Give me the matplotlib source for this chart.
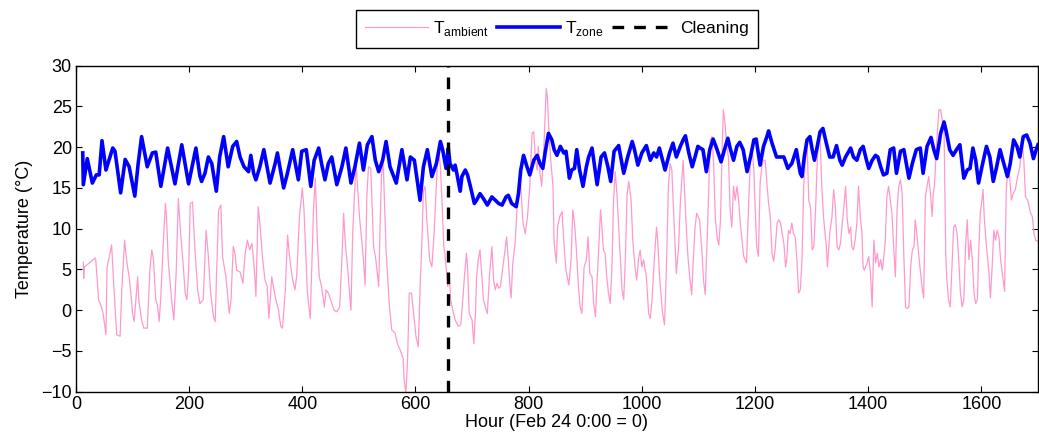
import numpy as np
import matplotlib
matplotlib.use("Agg")
import matplotlib.pyplot as plt

plt.rcParams["font.family"] = ["Liberation Sans", "DejaVu Sans"]
plt.rcParams["mathtext.fontset"] = "custom"
plt.rcParams["mathtext.rm"] = "Liberation Sans"

# Zone temperature (hour, deg C), daily swings of the conditioned space
zone_hour = [
    12, 13, 20, 29, 36, 41, 46, 53, 65, 69, 79, 87, 94, 104, 110, 116, 126, 135, 141, 150,
    162, 175, 187, 199, 212, 219, 222, 228, 234, 240, 248, 254, 261, 269, 277, 284, 290, 297,
    305, 309, 314, 318, 325, 332, 343, 352, 356, 367, 373, 383, 393, 399, 407, 415, 421, 429,
    434, 440, 446, 452, 461, 470, 477, 486, 493, 501, 508, 515, 523, 529, 535, 542, 548, 555,
    566, 576, 585, 591, 598, 608, 614, 621, 629, 637, 644, 648, 654, 658, 661, 664, 667, 670,
    673, 679, 682, 688, 692, 697, 704, 708, 714, 720, 727, 735, 741, 747, 753, 760, 764, 770,
    778, 782, 786, 791, 797, 802, 809, 815, 820, 825, 829, 835, 841, 845, 850, 856, 862, 866,
    872, 876, 881, 885, 890, 896, 902, 906, 912, 915, 921, 928, 934, 940, 945, 951, 959, 968,
    975, 983, 987, 993, 1000, 1008, 1015, 1021, 1026, 1031, 1041, 1049, 1055, 1061, 1068, 1073,
    1077, 1083, 1089, 1094, 1099, 1103, 1108, 1114, 1120, 1126, 1133, 1140, 1146, 1152, 1156,
    1162, 1168, 1173, 1179, 1186, 1192, 1198, 1202, 1209, 1215, 1221, 1224, 1230, 1238, 1245,
    1251, 1258, 1265, 1273, 1280, 1283, 1287, 1292, 1297, 1301, 1305, 1310, 1315, 1320, 1326,
    1332, 1338, 1344, 1350, 1354, 1360, 1364, 1369, 1374, 1380, 1386, 1391, 1397, 1401, 1407,
    1413, 1417, 1422, 1427, 1433, 1439, 1445, 1450, 1457, 1463, 1472, 1478, 1485, 1492, 1497,
    1504, 1511, 1516, 1521, 1528, 1534, 1538, 1544, 1550, 1556, 1562, 1569, 1575, 1580, 1585,
    1590, 1595, 1601, 1609, 1615, 1621, 1627, 1633, 1638, 1646, 1651, 1657, 1663, 1668, 1674,
    1680, 1686, 1692, 1697, 1700,
]
zone_temp = [
    19.3, 15.4, 18.6, 15.6, 16.6, 16.6, 20.8, 17.2, 19.9, 19.5, 14.4, 18.5, 17.6, 14.0, 18.0, 21.3, 17.6, 19.3, 19.4, 15.2,
    19.9, 15.5, 20.3, 15.5, 19.9, 16.5, 15.8, 16.8, 18.8, 18.0, 14.6, 18.8, 21.3, 17.6, 20.1, 20.7, 18.8, 17.6,
    17.0, 19.0, 16.8, 16.0, 17.6, 19.7, 15.6, 18.0, 19.3, 15.0, 16.6, 19.7, 16.0, 19.5, 19.7, 15.2, 18.4, 19.9,
    18.0, 16.0, 18.0, 18.8, 15.4, 17.6, 19.9, 15.6, 17.6, 20.5, 17.2, 20.3, 21.3, 18.4, 17.0, 18.4, 20.7, 17.6,
    15.6, 19.7, 16.0, 18.8, 18.4, 13.5, 17.6, 19.7, 16.4, 18.0, 20.7, 19.7, 17.4, 19.9, 18.0, 17.6, 17.2, 17.8,
    16.8, 14.6, 16.4, 17.2, 16.6, 15.2, 13.1, 13.5, 14.3, 13.7, 12.9, 13.9, 13.5, 13.1, 12.9, 13.9, 14.1, 13.1,
    12.7, 14.3, 17.2, 19.0, 17.6, 16.6, 18.4, 19.0, 18.0, 17.4, 19.3, 21.7, 20.9, 19.7, 19.0, 20.1, 19.3, 19.5,
    16.2, 17.2, 17.4, 19.7, 17.2, 15.2, 17.6, 18.8, 19.9, 18.4, 15.4, 18.8, 19.3, 17.6, 15.8, 19.5, 20.2, 16.8,
    18.8, 20.7, 19.7, 17.8, 19.3, 20.2, 18.4, 19.3, 18.8, 19.9, 17.2, 19.3, 20.5, 18.8, 20.1, 20.9,
    21.4, 19.3, 17.6, 18.8, 20.1, 19.9, 19.7, 17.0, 19.7, 21.0, 19.7, 18.2, 19.7, 21.1, 19.9,
    18.4, 20.1, 20.6, 19.7, 17.0, 18.8, 20.9, 21.0, 17.8, 20.1, 21.3, 22.0, 20.5, 18.8, 18.8,
    18.8, 17.4, 18.0, 19.7, 16.8, 16.4, 18.8, 20.9, 21.3, 19.7, 18.4, 20.1, 21.9, 22.3, 20.5,
    18.8, 18.8, 20.2, 18.4, 17.8, 18.8, 19.3, 19.9, 18.8, 18.4, 19.7, 20.1, 18.4, 17.4, 18.4,
    19.0, 18.8, 17.6, 16.6, 16.8, 19.7, 19.9, 16.8, 19.5, 19.7, 16.2, 18.0, 19.7, 19.9, 16.8,
    20.1, 21.2, 19.7, 18.6, 21.7, 23.1, 21.9, 19.7, 19.0, 19.7, 20.3, 16.2, 17.2, 17.4, 19.9,
    18.4, 15.6, 17.6, 20.1, 18.8, 15.8, 17.6, 19.7, 18.4, 16.4, 18.0, 20.9, 20.1, 18.8, 21.3,
    21.5, 20.5, 18.6, 19.7, 20.3,
]

# Outdoor (ambient) temperature (hour, deg C)
amb_hour = [
    13, 13.6, 15, 34, 35, 40, 45, 48, 53, 55, 59, 63, 67, 72, 78, 81, 86, 90, 94, 97, 100, 103,
    106, 109, 111, 116, 120, 126, 131, 134, 137, 141, 144, 147, 150, 154, 158, 160, 163, 169,
    173, 177, 181, 185, 190, 193, 196, 199, 202, 206, 210, 215, 219, 225, 230, 234, 238, 243,
    246, 252, 256, 259, 265, 271, 274, 278, 281, 284, 290, 295, 299, 303, 307, 311, 315, 318,
    322, 325, 330, 334, 338, 341, 346, 352, 358, 362, 365, 370, 374, 378, 383, 387, 390, 395,
    400, 403, 409, 414, 420, 423, 427, 430, 434, 439, 442, 446, 450, 456, 461, 466, 470, 473,
    476, 480, 483, 486, 489, 492, 495, 501, 505, 508, 511, 514, 517, 521, 526, 530, 535, 538,
    540, 543, 548, 554, 558, 564, 568, 573, 578, 580, 583, 586, 589, 593, 598, 601, 605, 608,
    611, 614, 617, 620, 625, 629, 633, 636, 639, 641, 644, 647, 650, 652, 654, 657, 660, 662,
    666, 670, 676, 680, 684, 686, 690, 692, 695, 700, 703, 706, 708, 711, 714, 717, 720, 725,
    727, 731, 733, 735, 738, 741, 744, 747, 750, 753, 756, 759, 761, 764, 767, 769, 772, 776,
    780, 785, 790, 794, 798, 802, 806, 809, 812, 815, 817, 820, 823, 827, 831, 833, 836, 839,
    843, 845, 849, 851, 855, 859, 863, 866, 871, 875, 878, 881, 884, 888, 891, 894, 898, 902,
    905, 908, 912, 915, 918, 921, 924, 927, 929, 932, 935, 938, 941, 944, 947, 950, 953, 956,
    961, 965, 968, 971, 974, 977, 981, 984, 988, 991, 994, 997, 1000, 1003, 1008, 1012, 1015,
    1018, 1022, 1026, 1028, 1031, 1036, 1040, 1043, 1047, 1050, 1053, 1056, 1061, 1065, 1068,
    1069, 1073, 1077, 1081, 1084, 1088, 1091, 1094, 1097, 1102, 1106, 1109, 1112, 1115, 1118,
    1121, 1124, 1127, 1130, 1133, 1136, 1139, 1142, 1144, 1147, 1150, 1153, 1156, 1159, 1162,
    1165, 1168, 1171, 1174, 1177, 1180, 1185, 1189, 1192, 1195, 1198, 1200, 1203, 1206, 1209,
    1212, 1215, 1218, 1221, 1224, 1227, 1230, 1233, 1236, 1239, 1242, 1245, 1248, 1251, 1254,
    1256, 1259, 1262, 1265, 1268, 1271, 1274, 1277, 1280, 1283, 1286, 1289, 1292, 1295, 1298,
    1301, 1304, 1307, 1310, 1313, 1315, 1318, 1321, 1326, 1328, 1332, 1336, 1339, 1342, 1345,
    1348, 1351, 1357, 1360, 1363, 1366, 1369, 1371, 1374, 1377, 1380, 1383, 1386, 1389, 1391,
    1393, 1398, 1401, 1404, 1407, 1410, 1413, 1416, 1419, 1422, 1425, 1427, 1430, 1433, 1436,
    1439, 1442, 1445, 1448, 1451, 1454, 1457, 1460, 1463, 1466, 1469, 1472, 1475, 1478, 1481,
    1483, 1486, 1489, 1492, 1495, 1498, 1501, 1504, 1507, 1510, 1513, 1515, 1517, 1521, 1525,
    1528, 1531, 1534, 1537, 1539, 1542, 1545, 1548, 1551, 1554, 1557, 1560, 1563, 1566, 1569,
    1572, 1575, 1578, 1581, 1584, 1587, 1590, 1593, 1595, 1598, 1601, 1603, 1605, 1609, 1613,
    1616, 1619, 1622, 1625, 1628, 1631, 1634, 1637, 1641, 1644, 1647, 1650, 1653, 1656, 1660,
    1663, 1668, 1672, 1675, 1678, 1682, 1687, 1690, 1693, 1696, 1700,
]
amb_temp = [
    5.9, 3.9, 5.3, 6.4, 6.2, 1.3, 0.4, -0.4, -3.0, 5.3, 6.6, 8.0, 2.9, -3.0, -3.2, 2.5, 8.6, 5.8, 4.1, 2.1, -0.4, -1.4,
    1.3, 4.1, 1.3, -1.2, -2.2, -2.2, 5.3, 7.4, 6.2, 1.3, 0.6, -1.4, 1.7, 7.8, 13.1, 11.5, 6.2, 1.3,
    -1.2, 4.5, 13.7, 9.4, 5.1, 2.1, 1.3, 4.5, 13.1, 13.3, 7.8, 2.5, 0.8, 1.3, 9.8, 6.6, 2.1, -0.8,
    -1.4, 12.3, 12.9, 6.6, 4.1, -0.4, 1.3, 7.8, 7.0, 4.9, 4.7, 3.3, 7.0, 8.6, 7.4, 8.2, 5.3, 1.7,
    12.7, 10.7, 6.2, 3.7, 2.9, -1.0, 4.1, 1.7, 0.0, -2.0, -2.2, 2.5, 9.2, 6.2, 3.7, 2.5, 4.1, 11.5,
    15.0, 12.3, 2.1, -1.0, 12.7, 16.2, 7.8, 4.1, 2.9, 0.4, 2.5, 2.1, 1.3, 0.0, -0.2, 0.4, 6.2, 11.9,
    8.2, 5.3, 2.5, 0.0, 9.4, 13.9, 18.0, 11.5, 8.6, 6.2, 3.1, 13.9, 17.6, 17.4, 7.8, 6.2, 2.9, 11.9,
    16.6, 18.0, 7.4, 0.4, -2.4, -2.8, -4.1, -4.9, -5.9, -8.6, -10.2, -6.1, 2.1, 2.1, -1.2, -3.3, -4.5, 2.5,
    7.8, 14.6, 15.2, 11.1, 6.2, 5.3, 9.6, 14.0, 18.8, 19.7, 17.6, 13.1, 7.8, 7.0, 5.3, 2.9, 4.1, 1.3,
    0.0, -1.2, -2.0, -1.8, 1.7, 3.7, 7.0, 5.3, -0.4, -1.2, -4.1, -0.4, 4.1, 6.2, 7.4, 4.5, 1.3, 0.0,
    -0.4, 4.5, 6.2, 7.8, 3.7, 2.5, 3.3, 2.7, 2.9, 4.5, 6.2, 7.8, 9.0, 6.2, 2.9, 1.5, 5.8, 8.2,
    13.1, 16.4, 10.7, 9.4, 11.5, 15.2, 21.7, 21.9, 18.4, 17.2, 20.1, 16.8, 15.2, 20.1, 27.2, 26.2, 21.7, 18.4,
    15.2, 8.2, 5.8, 10.2, 11.5, 12.1, 7.4, 4.9, 3.1, 6.2, 12.3, 10.7, 7.8, 2.9, 0.4, -0.4, 5.3, 6.2,
    9.0, 4.5, 4.1, 0.8, -0.8, 3.7, 7.8, 12.3, 10.7, 7.4, 7.0, 4.1, 2.1, 0.8, 4.9, 13.5, 17.0, 14.3,
    7.8, 2.5, 1.3, 6.6, 14.3, 15.8, 13.5, 8.6, 5.3, 3.7, 6.2, 7.4, 5.3, 6.2, 4.1, -0.4, -1.0,
    1.3, 6.2, 10.2, 8.6, 4.5, 0.0, -1.8, 4.1, 15.2, 18.0, 17.2, 12.3, 4.5, 7.8, 13.1,
    14.3, 18.4, 12.3, 7.0, 4.5, 1.9, 6.2, 10.2, 11.9, 11.1, 7.4, 3.7, 1.9, 7.8, 14.3,
    20.9, 21.3, 17.6, 11.1, 9.0, 8.0, 11.1, 20.1, 24.6, 22.9, 20.1, 18.8, 12.3, 10.2, 15.2,
    13.5, 15.2, 13.5, 10.7, 8.6, 6.6, 5.8, 13.5, 18.8, 19.7, 17.2, 13.1, 7.8, 6.6, 15.6,
    17.6, 18.4, 18.4, 15.6, 13.1, 11.5, 7.0, 6.0, 7.8, 10.7, 11.1, 10.7, 9.4, 8.2, 5.3,
    6.2, 9.8, 9.4, 10.7, 9.4, 9.0, 6.2, 2.1, 2.5, 6.2, 15.2, 18.4, 20.5, 13.5, 12.7,
    7.4, 7.8, 12.3, 18.4, 21.3, 20.9, 15.2, 11.5, 7.8, 5.3, 9.4, 11.5, 14.8, 12.7, 7.8,
    7.4, 8.2, 12.7, 15.2, 11.1, 9.4, 10.2, 7.8, 7.4, 8.6, 10.7, 15.2, 11.5, 9.4, 5.3,
    4.9, 5.8, 6.6, 4.5, 0.4, 8.6, 5.8, 7.0, 5.3, 6.2, 4.9, 6.2, 8.2, 13.9, 15.2,
    13.5, 11.9, 7.8, 4.1, 12.3, 15.2, 16.0, 14.3, 6.6, 0.4, 0.2, 0.4, 5.3, 7.4, 7.8,
    11.1, 9.4, 7.0, 4.9, 2.9, 1.5, 13.9, 15.2, 16.4, 14.3, 11.5, 14.3, 15.2, 20.5, 24.6,
    24.6, 23.3, 22.5, 7.0, 3.7, 1.3, 0.4, 5.3, 10.2, 10.5, 9.4, 6.2, 2.1, 0.4, 1.3,
    7.8, 11.1, 6.2, 8.6, 6.2, 2.1, 0.8, 1.3, 6.6, 11.9, 13.5, 14.8, 11.5, 7.8, 4.9,
    1.5, 5.3, 9.8, 8.6, 9.8, 9.0, 6.2, 4.5, 2.3, 14.8, 17.2, 16.4, 13.5, 14.3, 14.8,
    16.0, 17.6, 20.5, 18.4, 13.9, 13.5, 11.9, 11.5, 9.4, 8.6, 8.4,
]

cleaning_hour = 658

fig, ax = plt.subplots(figsize=(10.39, 4.47), dpi=100)
fig.subplots_adjust(left=0.0731, right=0.999, bottom=0.1237, top=0.853)

ax.plot(amb_hour, amb_temp, color="#ff99cc", lw=0.9, label=r"T$_\mathregular{ambient}$")
ax.plot(zone_hour, zone_temp, color="#0000ff", lw=2.6, label=r"T$_\mathregular{zone}$")
ax.axvline(cleaning_hour, color="black", lw=2.4, ls=(0, (3.5, 3)), label="Cleaning")

ax.set_xlim(0, 1700)
ax.set_ylim(-10, 30)
ax.set_xticks(np.arange(0, 1601, 200))
ax.set_yticks(np.arange(-10, 31, 5))
ax.tick_params(direction="in", top=True, right=True, length=4, width=0.8,
               labelsize=13, pad=3)
for s in ax.spines.values():
    s.set_linewidth(1.0)

ax.set_xlabel("Hour (Feb 24 0:00 = 0)", fontsize=13, labelpad=1)
ax.set_ylabel("Temperature (°C)", fontsize=13, labelpad=6)

leg = ax.legend(loc="lower center", bbox_to_anchor=(0.5, 1.055), ncol=3,
                fontsize=12.5, frameon=True, fancybox=False, framealpha=1,
                edgecolor="black", handlelength=3.6, handletextpad=0.3,
                columnspacing=0.5, borderpad=0.55, borderaxespad=0)
leg.get_frame().set_linewidth(1.0)

fig.savefig("out.png", dpi=100)
